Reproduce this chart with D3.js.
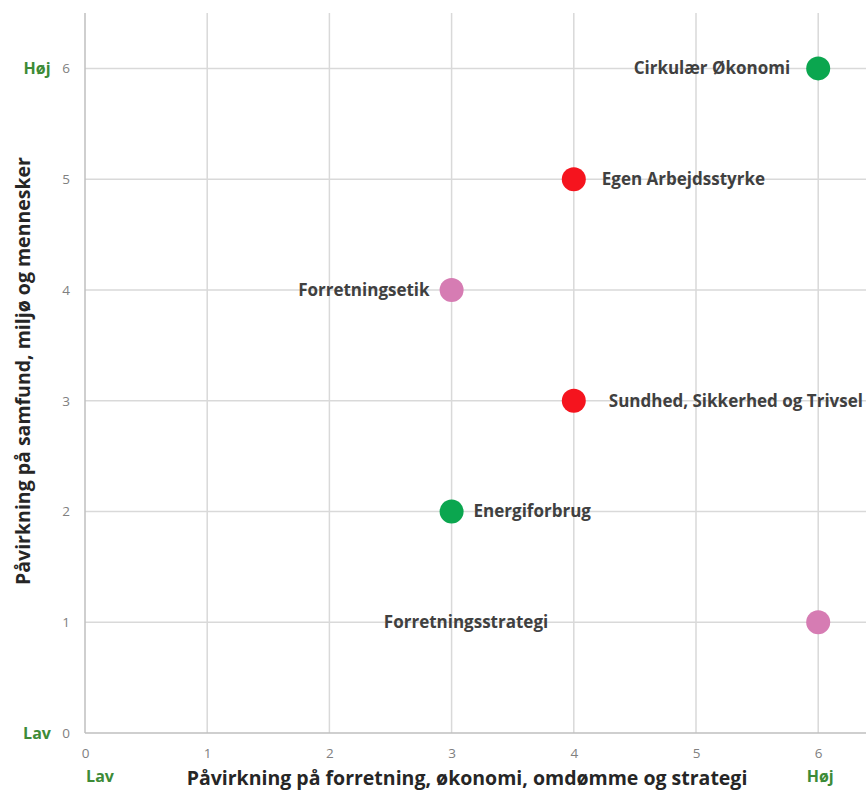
<!DOCTYPE html>
<html>
<head>
<meta charset="utf-8">
<script src="https://cdn.jsdelivr.net/npm/d3@7"></script>
<style>
  body { margin: 0; background: #fff; }
  svg { display: block; font-family: "Open Sans", sans-serif; }
</style>
</head>
<body>
<script>
var width = 866,
    height = 795;

// topics in the materiality matrix
var topics = ["Cirkulær Økonomi", "Egen Arbejdsstyrke", "Forretningsetik",
              "Sundhed, Sikkerhed og Trivsel", "Energiforbrug", "Forretningsstrategi"];
var businessImpact = [6, 4, 3, 4, 3, 6];   // x
var societyImpact  = [6, 5, 4, 3, 2, 1];   // y
var topicColor     = ["#0ba64f", "#f5141e", "#d67cb3", "#f5141e", "#0ba64f", "#d67cb3"];

// label placement next to each dot (pixels, not data)
var labelDx = [-28, 28, -22, 35, 22, -270];

var xTicks = [0, 1, 2, 3, 4, 5, 6];
var yTicks = [0, 1, 2, 3, 4, 5, 6];

var margin = { left: 85, top: 13, bottom: 62 };

var x = d3.scaleLinear()
    .domain([0, 7])
    .range([margin.left, margin.left + 7 * 122.2]);

var y = d3.scaleLinear()
    .domain([0, 6.5])
    .range([height - margin.bottom, margin.top]);

var svg = d3.select("body").append("svg")
    .attr("width", width)
    .attr("height", height);

// gridlines
svg.append("g")
    .selectAll("line")
    .data(xTicks.slice(1).concat([7]))
    .enter().append("line")
      .attr("x1", d => x(d)).attr("x2", d => x(d))
      .attr("y1", y(6.5)).attr("y2", y(0))
      .attr("stroke", "#d9d9d9")
      .attr("stroke-width", 1.5);

svg.append("g")
    .selectAll("line")
    .data(yTicks.slice(1))
    .enter().append("line")
      .attr("x1", x(0)).attr("x2", x(7))
      .attr("y1", d => y(d)).attr("y2", d => y(d))
      .attr("stroke", "#d9d9d9")
      .attr("stroke-width", 1.5);

// axes
var xAxis = d3.axisBottom(x).tickValues(xTicks).tickFormat(d3.format("d")).tickSize(0).tickPadding(15);
var yAxis = d3.axisLeft(y).tickValues(yTicks).tickFormat(d3.format("d")).tickSize(0).tickPadding(15);

var gx = svg.append("g")
    .attr("transform", "translate(0," + y(0) + ")")
    .call(xAxis);
var gy = svg.append("g")
    .attr("transform", "translate(" + x(0) + ",0)")
    .call(yAxis);

[gx, gy].forEach(function(g) {
  g.select(".domain").attr("stroke", "#bfbfbf").attr("stroke-width", 1.5);
  g.selectAll("text")
    .attr("fill", "#808080")
    .style("font-size", "13.5px")
    .style("font-family", "'Open Sans', sans-serif");
});
gx.select(".domain").attr("d", "M" + x(0) + ",0H" + x(7));
gy.select(".domain").attr("d", "M0," + y(0) + "V" + y(6.5));

// axis titles
svg.append("text")
    .attr("x", 467)
    .attr("y", 785)
    .attr("text-anchor", "middle")
    .attr("fill", "#262626")
    .style("font-size", "19.5px")
    .style("font-weight", "bold")
    .text("Påvirkning på forretning, økonomi, omdømme og strategi");

svg.append("text")
    .attr("transform", "translate(30,371)rotate(-90)")
    .attr("text-anchor", "middle")
    .attr("fill", "#262626")
    .style("font-size", "19.5px")
    .style("font-weight", "bold")
    .text("Påvirkning på samfund, miljø og mennesker");

// low / high markers
var green = "#3d8b37";
var marks = [
  { t: "Høj", x: 37, y: y(6) + 6 },
  { t: "Lav", x: 37, y: y(0) + 6 },
  { t: "Lav", x: 100, y: 782 },
  { t: "Høj", x: x(6) + 2, y: 782 }
];
svg.append("g")
    .selectAll("text")
    .data(marks)
    .enter().append("text")
      .attr("x", d => d.x)
      .attr("y", d => d.y)
      .attr("text-anchor", "middle")
      .attr("fill", green)
      .style("font-size", "16px")
      .style("font-weight", "bold")
      .text(d => d.t);

// points
var pts = topics.map(function(t, i) {
  return { name: t, x: businessImpact[i], y: societyImpact[i], color: topicColor[i], dx: labelDx[i] };
});

svg.append("g")
    .selectAll("text")
    .data(pts)
    .enter().append("text")
      .attr("x", d => x(d.x) + d.dx)
      .attr("y", d => y(d.y))
      .attr("dy", "0.35em")
      .attr("text-anchor", d => d.dx < 0 ? "end" : "start")
      .attr("fill", "#404040")
      .style("font-size", "17px")
      .style("font-weight", "bold")
      .text(d => d.name);

svg.append("g")
    .selectAll("circle")
    .data(pts)
    .enter().append("circle")
      .attr("cx", d => x(d.x))
      .attr("cy", d => y(d.y))
      .attr("r", 12)
      .attr("fill", d => d.color);
</script>
</body>
</html>
